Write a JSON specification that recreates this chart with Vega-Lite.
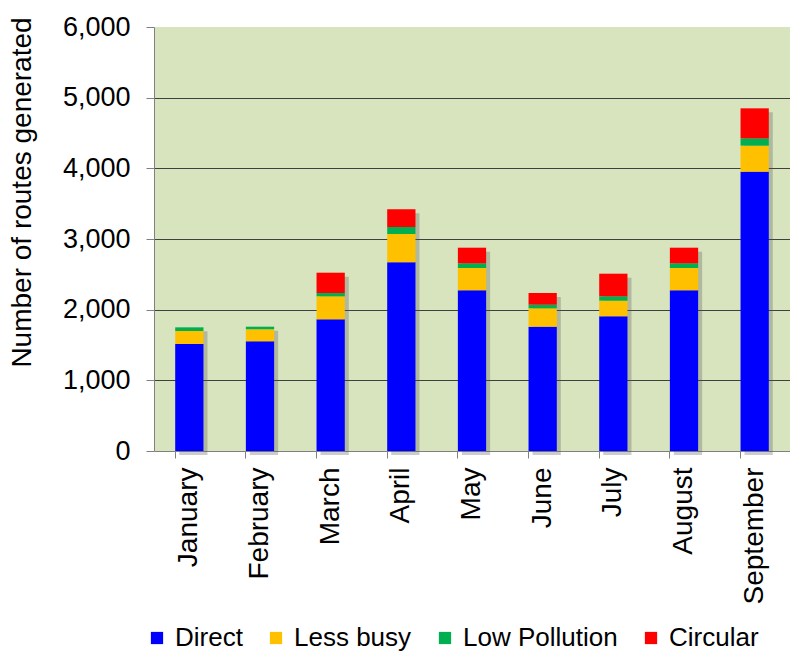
{
  "$schema": "https://vega.github.io/schema/vega-lite/v6.json",
  "width": 636,
  "height": 424,
  "autosize": "none",
  "padding": {"left": 154, "top": 27, "right": 0, "bottom": 202},
  "background": "white",
  "config": {
    "font": "Liberation Sans",
    "view": {"fill": "#D7E4BD", "stroke": null},
    "axis": {"labelFont": "Liberation Sans", "titleFont": "Liberation Sans", "labelColor": "#000000", "titleColor": "#000000"}
  },
  "data": {
    "values": [
      {"month": "January", "type": "Direct", "routes": 1514},
      {"month": "January", "type": "Less busy", "routes": 184},
      {"month": "January", "type": "Low Pollution", "routes": 52},
      {"month": "January", "type": "Circular", "routes": 0},
      {"month": "February", "type": "Direct", "routes": 1552},
      {"month": "February", "type": "Less busy", "routes": 170},
      {"month": "February", "type": "Low Pollution", "routes": 37},
      {"month": "February", "type": "Circular", "routes": 0},
      {"month": "March", "type": "Direct", "routes": 1863},
      {"month": "March", "type": "Less busy", "routes": 326},
      {"month": "March", "type": "Low Pollution", "routes": 47},
      {"month": "March", "type": "Circular", "routes": 287},
      {"month": "April", "type": "Direct", "routes": 2670},
      {"month": "April", "type": "Less busy", "routes": 401},
      {"month": "April", "type": "Low Pollution", "routes": 99},
      {"month": "April", "type": "Circular", "routes": 250},
      {"month": "May", "type": "Direct", "routes": 2274},
      {"month": "May", "type": "Less busy", "routes": 316},
      {"month": "May", "type": "Low Pollution", "routes": 66},
      {"month": "May", "type": "Circular", "routes": 221},
      {"month": "June", "type": "Direct", "routes": 1759},
      {"month": "June", "type": "Less busy", "routes": 260},
      {"month": "June", "type": "Low Pollution", "routes": 52},
      {"month": "June", "type": "Circular", "routes": 165},
      {"month": "July", "type": "Direct", "routes": 1906},
      {"month": "July", "type": "Less busy", "routes": 221},
      {"month": "July", "type": "Low Pollution", "routes": 62},
      {"month": "July", "type": "Circular", "routes": 320},
      {"month": "August", "type": "Direct", "routes": 2274},
      {"month": "August", "type": "Less busy", "routes": 316},
      {"month": "August", "type": "Low Pollution", "routes": 66},
      {"month": "August", "type": "Circular", "routes": 221},
      {"month": "September", "type": "Direct", "routes": 3953},
      {"month": "September", "type": "Less busy", "routes": 368},
      {"month": "September", "type": "Low Pollution", "routes": 103},
      {"month": "September", "type": "Circular", "routes": 425}
    ]
  },
  "encoding": {
    "x": {
      "field": "month",
      "type": "nominal",
      "sort": null,
      "scale": {"paddingInner": 0.6, "paddingOuter": 0.3},
      "axis": {
        "title": null,
        "labelAngle": -90,
        "labelFontSize": 28,
        "labelPadding": 9,
        "bandPosition": 0,
        "ticks": true,
        "tickSize": 7,
        "tickColor": "#808080",
        "domainColor": "#808080",
        "labelBaseline": "middle"
      }
    }
  },
  "layer": [
    {
      "transform": [{"aggregate": [{"op": "sum", "field": "routes", "as": "total"}], "groupby": ["month"]}],
      "mark": {"type": "bar", "color": "#555555", "opacity": 0.3, "xOffset": 4, "yOffset": 4},
      "encoding": {
        "y": {
          "field": "total",
          "type": "quantitative",
          "title": "Number of routes generated",
          "scale": {"domain": [0, 6000]},
          "axis": {
            "title": "Number of routes generated",
            "titleFontSize": 28,
            "titleFontWeight": "normal",
            "titleX": -132,
            "titleY": 165,
            "titleAlign": "center",
            "titleBaseline": "middle",
            "titleAngle": -90,
            "labelFontSize": 27,
            "labelPadding": 16,
            "values": [0, 1000, 2000, 3000, 4000, 5000, 6000],
            "format": ",d",
            "tickSize": 8,
            "tickColor": "#808080",
            "domainColor": "#808080",
            "grid": true,
            "gridColor": "#404040",
            "gridOpacity": {"condition": {"test": "datum.value === 6000 || datum.value === 0", "value": 0}, "value": 1}
          }
        }
      }
    },
    {
      "transform": [{"calculate": "indexof(['Direct','Less busy','Low Pollution','Circular'], datum.type)", "as": "stackIndex"}],
      "mark": {"type": "bar"},
      "encoding": {
        "y": {
          "field": "routes",
          "type": "quantitative",
          "aggregate": "sum",
          "title": "Number of routes generated",
          "scale": {"domain": [0, 6000]},
          "axis": {
            "title": "Number of routes generated",
            "titleFontSize": 28,
            "titleFontWeight": "normal",
            "titleX": -132,
            "titleY": 165,
            "titleAlign": "center",
            "titleBaseline": "middle",
            "titleAngle": -90,
            "labelFontSize": 27,
            "labelPadding": 16,
            "values": [0, 1000, 2000, 3000, 4000, 5000, 6000],
            "format": ",d",
            "tickSize": 8,
            "tickColor": "#808080",
            "domainColor": "#808080",
            "grid": true,
            "gridColor": "#404040",
            "gridOpacity": {"condition": {"test": "datum.value === 6000 || datum.value === 0", "value": 0}, "value": 1}
          }
        },
        "order": {"field": "stackIndex", "type": "quantitative", "sort": "ascending"},
        "color": {
          "field": "type",
          "type": "nominal",
          "scale": {"domain": ["Direct", "Less busy", "Low Pollution", "Circular"], "range": ["#0000FF", "#FFC000", "#00B050", "#FF0000"]},
          "legend": {
            "title": null,
            "orient": "none",
            "direction": "horizontal",
            "legendX": -10,
            "legendY": 598,
            "symbolType": "square",
            "symbolSize": 150,
            "symbolStrokeWidth": 0,
            "symbolOpacity": 1,
            "labelFontSize": 26,
            "labelColor": "#000000",
            "labelOffset": 5,
            "columnPadding": 20
          }
        }
      }
    }
  ]
}
